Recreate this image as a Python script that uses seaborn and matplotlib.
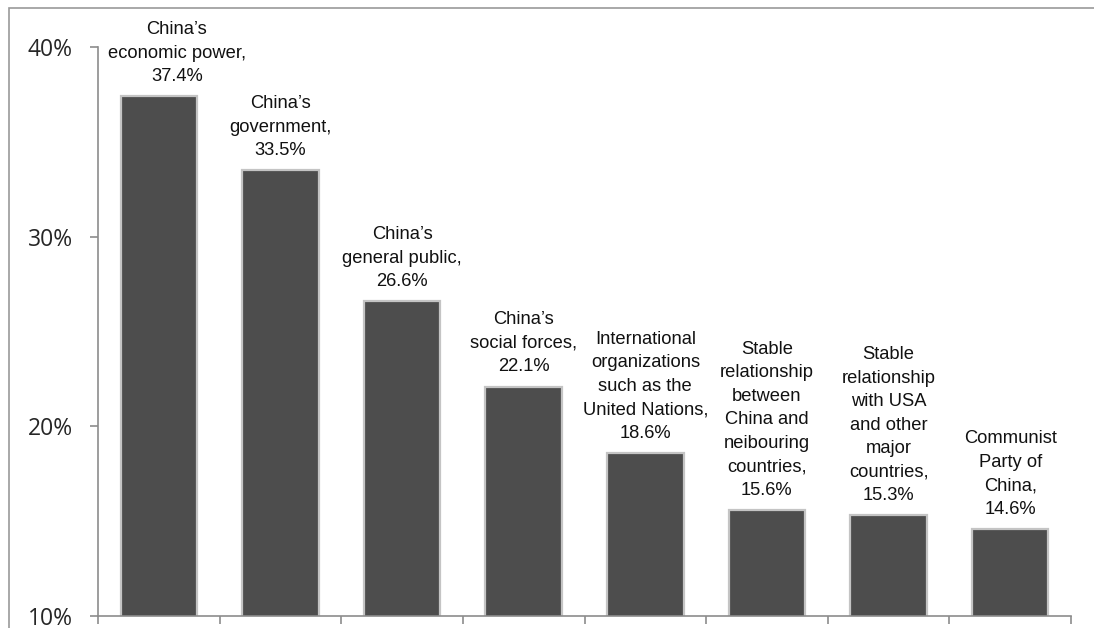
import matplotlib
matplotlib.use("Agg")
import matplotlib.pyplot as plt
import seaborn as sns
import pandas as pd
import numpy as np
from matplotlib.patches import Rectangle

labels = [
    "China\u2019s\neconomic power,",
    "China\u2019s\ngovernment,",
    "China\u2019s\ngeneral public,",
    "China\u2019s\nsocial forces,",
    "International\norganizations\nsuch as the\nUnited Nations,",
    "Stable\nrelationship\nbetween\nChina and\nneibouring\ncountries,",
    "Stable\nrelationship\nwith USA\nand other\nmajor\ncountries,",
    "Communist\nParty of\nChina,",
]
values = [37.4, 33.5, 26.6, 22.1, 18.6, 15.6, 15.3, 14.6]
y_ticks = [10, 20, 30, 40]

sns.set_theme(style="white")
plt.rcParams["font.family"] = ["Liberation Sans", "DejaVu Sans"]

df = pd.DataFrame({"cat": [f"c{i}" for i in range(len(values))], "val": values})

fig = plt.figure(figsize=(10.94, 6.28), dpi=100)
ax = fig.add_axes([98 / 1094, 1 - 616 / 628, (1071 - 98) / 1094, (616 - 47) / 628])

sns.barplot(data=df, x="cat", y="val", ax=ax, color="#4d4d4d", width=0.63,
            saturation=1, edgecolor="#c4c4c4", linewidth=1.6)

ax.set_ylim(10, 40)
ax.set_xlim(-0.5, len(values) - 0.5)
ax.set_yticks(y_ticks)
ax.set_yticklabels([f"{t}%" for t in y_ticks], fontsize=16.5, family=["Open Sans", "DejaVu Sans"])
ax.set_xticks(np.arange(len(values) + 1) - 0.5)
ax.set_xticklabels([])
ax.set_xlabel("")
ax.set_ylabel("")

for s in ["top", "right"]:
    ax.spines[s].set_visible(False)
for s in ["left", "bottom"]:
    ax.spines[s].set_color("#8c8c8c")
    ax.spines[s].set_linewidth(1.2)
ax.tick_params(axis="y", which="both", left=True, length=6, width=1.2, color="#8c8c8c", pad=12)
ax.tick_params(axis="x", which="both", bottom=True, length=6, width=1.2, color="#8c8c8c")

for i, (lab, v) in enumerate(zip(labels, values)):
    # the first label is nudged right so it clears the y axis
    dx = 13 if i == 0 else 0
    ax.annotate(f"{lab}\n{v}%", xy=(i, v), xytext=(dx, 8), textcoords="offset points",
                ha="center", va="bottom", fontsize=13.2, linespacing=1.5,
                color="#111111", annotation_clip=False)

# outer frame around the chart area
fig.patches.append(Rectangle((9 / 1094, -0.1), 1.2, 1 - 8 / 628 + 0.1,
                             transform=fig.transFigure, fill=False,
                             edgecolor="#999999", linewidth=1.2))

fig.savefig("out.png", dpi=100)
